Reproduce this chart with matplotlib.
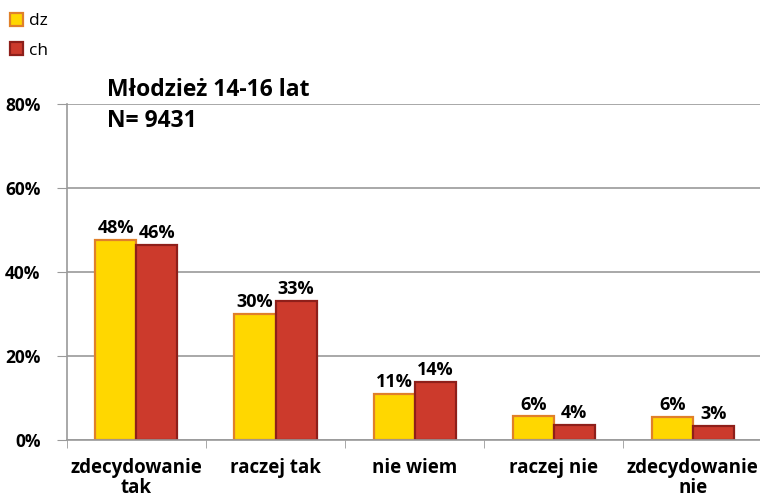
import matplotlib
matplotlib.use("Agg")
import matplotlib.pyplot as plt
import numpy as np

plt.rcParams.update({
    "font.family": ["Open Sans", "DejaVu Sans"],
    "font.weight": "bold",
})

categories = ["zdecydowanie\ntak", "raczej tak", "nie wiem", "raczej nie", "zdecydowanie\nnie"]
dz = [47.7, 30.0, 11.0, 5.6, 5.5]
ch = [46.4, 33.1, 13.8, 3.6, 3.4]
series_names = ["dz", "ch"]
yticks = [0, 20, 40, 60, 80]

fig = plt.figure(figsize=(7.6, 5.04), dpi=100)
ax = fig.add_axes([0.088, 0.127, 0.915, 0.667])

x = np.arange(len(categories))
w = 0.295
b1 = ax.bar(x - w / 2, dz, w, color="#FFD700", edgecolor="#E0802A", linewidth=1.6,
            label=series_names[0])
b2 = ax.bar(x + w / 2, ch, w, color="#CC3A2C", edgecolor="#8E1F1A", linewidth=1.6,
            label=series_names[1])
for bars, vals in ((b1, dz), (b2, ch)):
    for r, v in zip(bars, vals):
        ax.text(r.get_x() + r.get_width() / 2, v + 0.6, f"{v:.0f}%", ha="center",
                va="bottom", fontsize=13, fontweight="bold")

ax.set_xlim(-0.5, len(categories) - 0.5)
ax.set_ylim(0, 80)
ax.set_yticks(yticks)
ax.set_yticklabels([f"{t}%" for t in yticks], fontsize=12.5, fontweight="bold")
ax.yaxis.grid(True, color="#9a9a9a", linewidth=1.2)
ax.set_axisbelow(True)
ax.tick_params(axis="y", length=7, color="#9a9a9a", pad=12)

ax.set_xticks(x)
ax.set_xticklabels(categories, fontsize=13.5, fontweight="bold", linespacing=1.0)
ax.set_xticks(np.arange(len(categories) + 1) - 0.5, minor=True)
ax.tick_params(axis="x", which="major", length=0, pad=13)
ax.tick_params(axis="x", which="minor", length=6, color="#9a9a9a")
for s in ["top", "right"]:
    ax.spines[s].set_visible(False)
ax.spines["left"].set_color("#9a9a9a")
ax.spines["bottom"].set_color("#9a9a9a")
ax.spines["left"].set_linewidth(1.2)
ax.spines["bottom"].set_linewidth(1.2)

ax.text(0.058, 1.04, "Młodzież 14-16 lat", transform=ax.transAxes, fontsize=16.5,
        fontweight="bold", va="center")
ax.text(0.058, 0.95, "N= 9431", transform=ax.transAxes, fontsize=16.5,
        fontweight="bold", va="center")

fig.legend(handles=[b1, b2], loc="upper left", bbox_to_anchor=(0.0, 0.995),
           frameon=False, handlelength=0.75, handleheight=0.75,
           handletextpad=0.3, labelspacing=0.75, borderaxespad=0.2,
           prop={"size": 12.5, "weight": "normal"})

fig.savefig("out.png", dpi=100)
